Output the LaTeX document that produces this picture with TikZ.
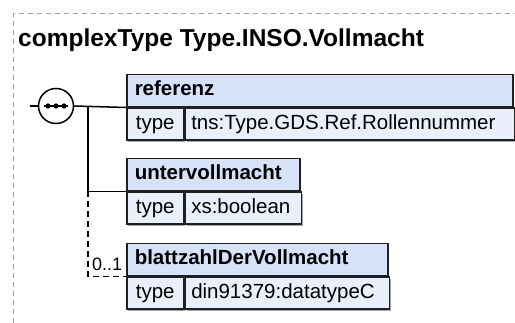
\documentclass[tikz,border=0pt]{standalone}
\usepackage{fontspec}
\setmainfont{Liberation Sans}
\usetikzlibrary{shadows}
\definecolor{hdrblue}{RGB}{214,226,247}
\definecolor{rowblue}{RGB}{234,240,251}
\definecolor{edge}{RGB}{32,32,32}
\definecolor{frame}{RGB}{160,160,160}
\tikzset{
  boxcell/.style={draw=edge, line width=1.5pt, rectangle, anchor=north west,
    minimum height=32pt, text height=15pt, text depth=4.5pt,
    drop shadow={shadow xshift=1.5pt, shadow yshift=-1.5pt, fill=black!35, opacity=1}},
  hdr/.style={boxcell, fill=hdrblue, inner xsep=8pt, align=left,
    font=\fontsize{20.5}{24}\selectfont\bfseries},
  typecell/.style={boxcell, fill=rowblue, inner xsep=0pt, minimum width=57pt,
    font=\fontsize{20.5}{24}\selectfont},
  valcell/.style={boxcell, fill=rowblue, inner xsep=6pt, align=left,
    font=\fontsize{20.5}{24}\selectfont},
  conn/.style={line width=1.5pt, black},
  optconn/.style={conn, dash pattern=on 6pt off 4pt}
}
\begin{document}
\begin{tikzpicture}[x=1pt,y=1pt]
\useasboundingbox (0,0) rectangle (515,323);
% outer dashed frame (only top and left visible)
\draw[frame, line width=1pt, dash pattern=on 5pt off 4pt] (13,0) -- (13,309) -- (515,309);
% title
\node[anchor=base west, inner sep=0pt, font=\fontsize{24.5}{28}\selectfont\bfseries] (title) at (18,276) {complexType Type.INSO.Vollmacht};

% referenz
\node[hdr, text width=370pt] (refH) at (126,249) {referenz};
\node[typecell] (refT) at (refH.south west) {type};
\node[valcell, text width=317pt] (refV) at (refT.north east) {tns:Type.GDS.Ref.Rollennummer};

% untervollmacht
\node[hdr, text width=157pt] (untH) at (126,165) {untervollmacht};
\node[typecell] (untT) at (untH.south west) {type};
\node[valcell, text width=104pt] (untV) at (untT.north east) {xs:boolean};

% blattzahlDerVollmacht
\node[hdr, text width=245pt] (blaH) at (126,80) {blattzahlDerVollmacht};
\node[typecell] (blaT) at (blaH.south west) {type};
\node[valcell, text width=192pt] (blaV) at (blaT.north east) {din91379:datatypeC};

% sequence symbol
\node[circle, draw=black, line width=1.5pt, fill=white, minimum size=35pt, inner sep=0pt] (seq) at (56,217) {};
\coordinate (in) at (30,217);
\draw[conn] (in) -- (seq.west);
\draw[conn] ([xshift=-12pt]seq.center) -- ([xshift=12pt]seq.center);
\foreach \dx in {-8,0,8} \fill ([xshift=\dx pt]seq.center) circle (2.6pt);

% connectors
\draw[conn] (seq.east) -- (refH.south west);
\coordinate (j) at (88,217);
\coordinate (j2) at (j |- untH.south west);
\draw[conn] (j) -- (j2) -- (untH.south west);
\draw[optconn] (j2) |- (blaH.south west);
\node[anchor=base west, inner sep=0pt, font=\fontsize{18}{20}\selectfont] (occ) at (92,52) {0..1};
\end{tikzpicture}
\end{document}
